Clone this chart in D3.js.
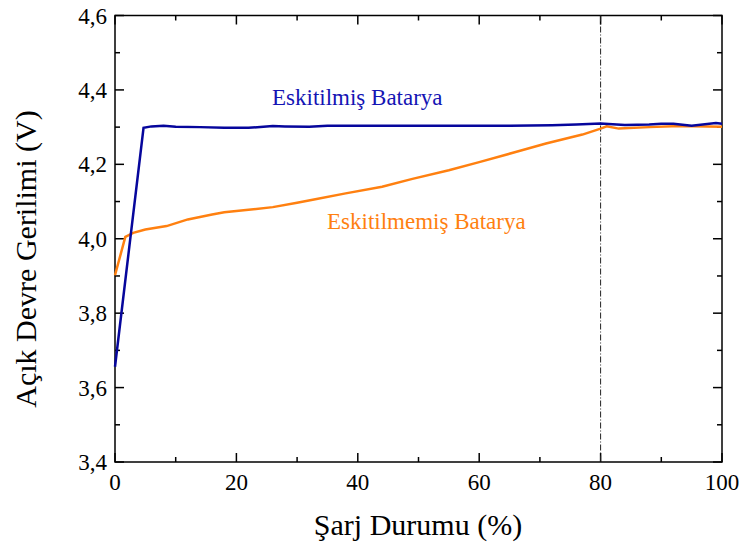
<!DOCTYPE html>
<html>
<head>
<meta charset="utf-8">
<script src="https://cdn.jsdelivr.net/npm/d3@7"></script>
<style>
  body { margin: 0; background: #fff; }
</style>
</head>
<body>
<svg id="chart" width="744" height="547"></svg>
<script>
// Eskitilmiş (aged) battery
const agedSoc = [0, 4.7, 6, 8, 10, 14, 18, 22, 26, 28, 32, 35, 45, 55, 65, 72, 76, 80, 84, 88, 90, 92, 95, 99, 100];
const agedV   = [3.656, 4.298, 4.302, 4.304, 4.301, 4.300, 4.298, 4.298, 4.303, 4.302, 4.301, 4.304, 4.304, 4.304, 4.304, 4.305, 4.307, 4.310, 4.306, 4.307, 4.309, 4.309, 4.304, 4.311, 4.309];

// Eskitilmemiş (new) battery
const newSoc = [0, 1.7, 3, 5, 8.5, 12, 16, 18, 22, 26, 30, 33, 38, 44, 49, 55, 60, 66, 71, 77, 80, 81, 83, 88, 93, 100];
const newV   = [3.902, 4.005, 4.016, 4.025, 4.034, 4.052, 4.065, 4.071, 4.078, 4.085, 4.097, 4.106, 4.122, 4.140, 4.161, 4.184, 4.206, 4.233, 4.256, 4.280, 4.296, 4.302, 4.296, 4.300, 4.303, 4.301];

const xTicks = [0, 20, 40, 60, 80, 100];
const yTicks = [3.4, 3.6, 3.8, 4.0, 4.2, 4.4, 4.6];
const markerSoc = 80;

const pLeft = 115, pRight = 722, pTop = 15.5, pBottom = 462;
const serif = "'Liberation Serif', 'Times New Roman', serif";

const xScale = d3.scaleLinear().domain([0, 100]).range([pLeft, pRight]);
const yScale = d3.scaleLinear().domain([3.4, 4.6]).range([pBottom, pTop]);

const svg = d3.select("#chart");
const fmt = d => d3.format(".1f")(d).replace(".", ",");

// minor + major ticks, all inward, mirrored on top/right
const xMinor = d3.range(0, 101, 10);
const yMinor = d3.range(0, 13).map(i => 3.4 + i * 0.1);
const tickG = svg.append("g").attr("stroke", "#000").attr("stroke-width", 1.5);
xMinor.forEach((v, i) => {
  const len = i % 2 === 0 ? 9 : 5;
  tickG.append("line").attr("x1", xScale(v)).attr("x2", xScale(v)).attr("y1", pBottom).attr("y2", pBottom - len);
  tickG.append("line").attr("x1", xScale(v)).attr("x2", xScale(v)).attr("y1", pTop).attr("y2", pTop + len);
});
yMinor.forEach((v, i) => {
  const len = i % 2 === 0 ? 9 : 5;
  tickG.append("line").attr("y1", yScale(v)).attr("y2", yScale(v)).attr("x1", pLeft).attr("x2", pLeft + len);
  tickG.append("line").attr("y1", yScale(v)).attr("y2", yScale(v)).attr("x1", pRight).attr("x2", pRight - len);
});

// frame
svg.append("rect")
  .attr("x", pLeft).attr("y", pTop)
  .attr("width", pRight - pLeft).attr("height", pBottom - pTop)
  .attr("fill", "none").attr("stroke", "#000").attr("stroke-width", 1.5);

// tick labels
svg.append("g").selectAll("text").data(xTicks).join("text")
  .attr("x", d => xScale(d)).attr("y", 490)
  .attr("text-anchor", "middle").attr("font-size", 23)
  .style("font-family", serif)
  .text(d => d);
svg.append("g").selectAll("text").data(yTicks).join("text")
  .attr("x", 107).attr("y", d => yScale(d) + 8)
  .attr("text-anchor", "end").attr("font-size", 23)
  .style("font-family", serif)
  .text(fmt);

// vertical dash-dot marker at 80%
svg.append("line")
  .attr("x1", xScale(markerSoc)).attr("x2", xScale(markerSoc))
  .attr("y1", pTop).attr("y2", pBottom)
  .attr("stroke", "#222").attr("stroke-width", 1)
  .attr("stroke-dasharray", "6,2,1,2");

const line = d3.line().x(d => xScale(d[0])).y(d => yScale(d[1]));

svg.append("path")
  .datum(newSoc.map((s, i) => [s, newV[i]]))
  .attr("d", line).attr("fill", "none")
  .attr("stroke", "#ff8010").attr("stroke-width", 2.5);

svg.append("path")
  .datum(agedSoc.map((s, i) => [s, agedV[i]]))
  .attr("d", line).attr("fill", "none")
  .attr("stroke", "#06069c").attr("stroke-width", 2.5);

// series labels
svg.append("text").attr("x", 272).attr("y", 105)
  .attr("font-size", 23).attr("fill", "#1414b4")
  .style("font-family", serif)
  .text("Eskitilmiş Batarya");
svg.append("text").attr("x", 327).attr("y", 229)
  .attr("font-size", 23).attr("fill", "#ff8010")
  .style("font-family", serif)
  .text("Eskitilmemiş Batarya");

// axis titles
svg.append("text").attr("x", 418).attr("y", 535)
  .attr("text-anchor", "middle").attr("font-size", 30)
  .style("font-family", serif)
  .text("Şarj Durumu (%)");
svg.append("text")
  .attr("transform", `translate(36,259) rotate(-90)`)
  .attr("text-anchor", "middle").attr("font-size", 30)
  .style("font-family", serif)
  .text("Açık Devre Gerilimi (V)");
</script>
</body>
</html>
